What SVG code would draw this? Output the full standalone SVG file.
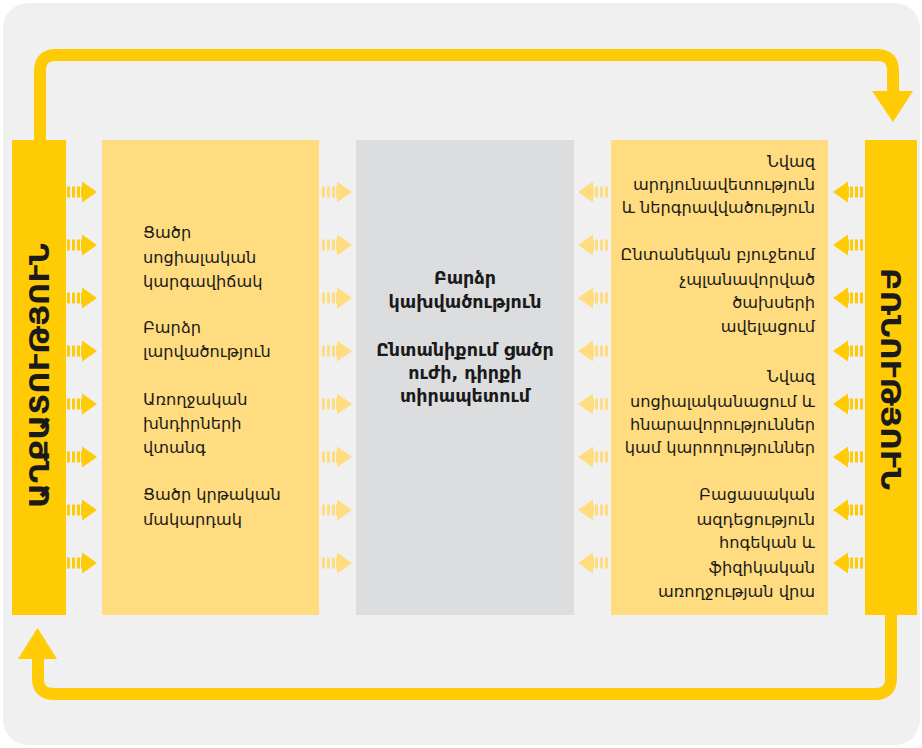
<svg xmlns="http://www.w3.org/2000/svg" xmlns:xlink="http://www.w3.org/1999/xlink" width="922" height="748" viewBox="0 0 922 748">
  <style>
    .bg { fill: #f0f0f0; }
    .bar { fill: #ffcb05; }
    .panel { fill: #ffdc80; }
    .mid { fill: #dcdddf; }
    .conn { fill: none; stroke: #ffcb05; stroke-width: 12; stroke-linejoin: round; }
    .head { fill: #ffcb05; }
    .t { font-family: "DejaVu Sans", "Noto Sans", sans-serif; font-size: 16.2px; fill: #1a1a1a; }
    .tb { font-family: "DejaVu Sans", "Noto Sans", sans-serif; font-size: 17.5px; font-weight: bold; fill: #1a1a1a; text-anchor: middle; }
    .cap { font-family: "DejaVu Sans", "Noto Sans", sans-serif; font-size: 27px; font-weight: bold; fill: #1a1a1a; text-anchor: middle; }
    .r { text-anchor: end; }
  </style>
  <defs>
    <g id="arrR">
      <rect x="0" y="-5.5" width="3" height="11"/>
      <rect x="5" y="-5.5" width="3" height="11"/>
      <rect x="10" y="-5.5" width="3" height="11"/>
      <polygon points="15,-10.5 15,-5.5 14,-5.5 14,5.5 15,5.5 15,10.5 30,0"/>
    </g>
  </defs>

  <rect class="bg" x="3" y="3" width="917" height="742" rx="25" ry="25"/>

  <g id="connectors">
    <path class="conn" d="M40,140 V71 Q40,55 56,55 H877 Q893,55 893,71 V92"/>
    <polygon class="head" points="872,91 913,91 893,122"/>
    <path class="conn" d="M891,615 V678 Q891,694 875,694 H54 Q38,694 38,678 V658"/>
    <polygon class="head" points="18,659 57,659 37.5,628"/>
  </g>

  <g id="poverty">
    <rect class="bar" x="12" y="140" width="54" height="475"/>
    <text class="cap" transform="translate(49,375.5) rotate(-90)" x="0" y="0" textLength="265" lengthAdjust="spacingAndGlyphs">ԱՂՔԱՏՈՒԹՅՈՒՆ</text>
  </g>

  <g id="violence">
    <rect class="bar" x="865" y="140" width="52" height="475"/>
    <text class="cap" transform="translate(881,379) rotate(90)" x="0" y="0" textLength="222" lengthAdjust="spacingAndGlyphs">ԲՌՆՈՒԹՅՈՒՆ</text>
  </g>

  <g id="left-panel">
    <rect class="panel" x="102" y="140" width="217" height="475"/>
    <text class="t" x="143" y="238">Ցածր</text>
    <text class="t" x="143" y="262.5">սոցիալական</text>
    <text class="t" x="143" y="287">կարգավիճակ</text>
    <text class="t" x="143" y="333">Բարձր</text>
    <text class="t" x="143" y="357">լարվածություն</text>
    <text class="t" x="143" y="405">Առողջական</text>
    <text class="t" x="143" y="429">խնդիրների</text>
    <text class="t" x="143" y="453">վտանգ</text>
    <text class="t" x="143" y="500">Ցածր կրթական</text>
    <text class="t" x="143" y="525">մակարդակ</text>
  </g>

  <g id="center-panel">
    <rect class="mid" x="356" y="140" width="218" height="475"/>
    <text class="tb" x="465" y="284">Բարձր</text>
    <text class="tb" x="465" y="308">կախվածություն</text>
    <text class="tb" x="465" y="356">Ընտանիքում ցածր</text>
    <text class="tb" x="465" y="379">ուժի, դիրքի</text>
    <text class="tb" x="465" y="402">տիրապետում</text>
  </g>

  <g id="right-panel">
    <rect class="panel" x="611" y="140" width="217" height="475"/>
    <text class="t r" x="815" y="167">Նվազ</text>
    <text class="t r" x="815" y="190">արդյունավետություն</text>
    <text class="t r" x="815" y="213">և ներգրավվածություն</text>
    <text class="t r" x="815" y="260">Ընտանեկան բյուջեում</text>
    <text class="t r" x="815" y="285">չպլանավորված</text>
    <text class="t r" x="815" y="308">ծախսերի</text>
    <text class="t r" x="815" y="332">ավելացում</text>
    <text class="t r" x="815" y="382">Նվազ</text>
    <text class="t r" x="815" y="407">սոցիալականացում և</text>
    <text class="t r" x="815" y="430">հնարավորություններ</text>
    <text class="t r" x="815" y="453">կամ կարողություններ</text>
    <text class="t r" x="815" y="500">Բացասական</text>
    <text class="t r" x="815" y="525">ազդեցություն</text>
    <text class="t r" x="815" y="548">հոգեկան և</text>
    <text class="t r" x="815" y="573">ֆիզիկական</text>
    <text class="t r" x="815" y="597">առողջության վրա</text>
  </g>

  <g id="arrows">
    <g fill="#ffcb05">
      <use xlink:href="#arrR" transform="translate(67,192)"/>
      <use xlink:href="#arrR" transform="translate(67,245)"/>
      <use xlink:href="#arrR" transform="translate(67,298)"/>
      <use xlink:href="#arrR" transform="translate(67,351)"/>
      <use xlink:href="#arrR" transform="translate(67,404)"/>
      <use xlink:href="#arrR" transform="translate(67,457)"/>
      <use xlink:href="#arrR" transform="translate(67,510)"/>
      <use xlink:href="#arrR" transform="translate(67,563)"/>
      <use xlink:href="#arrR" transform="translate(863,192) scale(-1,1)"/>
      <use xlink:href="#arrR" transform="translate(863,245) scale(-1,1)"/>
      <use xlink:href="#arrR" transform="translate(863,298) scale(-1,1)"/>
      <use xlink:href="#arrR" transform="translate(863,351) scale(-1,1)"/>
      <use xlink:href="#arrR" transform="translate(863,404) scale(-1,1)"/>
      <use xlink:href="#arrR" transform="translate(863,457) scale(-1,1)"/>
      <use xlink:href="#arrR" transform="translate(863,510) scale(-1,1)"/>
      <use xlink:href="#arrR" transform="translate(863,563) scale(-1,1)"/>
    </g>
    <g fill="#ffdc80">
      <use xlink:href="#arrR" transform="translate(322,192)"/>
      <use xlink:href="#arrR" transform="translate(322,245)"/>
      <use xlink:href="#arrR" transform="translate(322,298)"/>
      <use xlink:href="#arrR" transform="translate(322,351)"/>
      <use xlink:href="#arrR" transform="translate(322,404)"/>
      <use xlink:href="#arrR" transform="translate(322,457)"/>
      <use xlink:href="#arrR" transform="translate(322,510)"/>
      <use xlink:href="#arrR" transform="translate(322,563)"/>
      <use xlink:href="#arrR" transform="translate(608,192) scale(-1,1)"/>
      <use xlink:href="#arrR" transform="translate(608,245) scale(-1,1)"/>
      <use xlink:href="#arrR" transform="translate(608,298) scale(-1,1)"/>
      <use xlink:href="#arrR" transform="translate(608,351) scale(-1,1)"/>
      <use xlink:href="#arrR" transform="translate(608,404) scale(-1,1)"/>
      <use xlink:href="#arrR" transform="translate(608,457) scale(-1,1)"/>
      <use xlink:href="#arrR" transform="translate(608,510) scale(-1,1)"/>
      <use xlink:href="#arrR" transform="translate(608,563) scale(-1,1)"/>
    </g>
  </g>
</svg>
